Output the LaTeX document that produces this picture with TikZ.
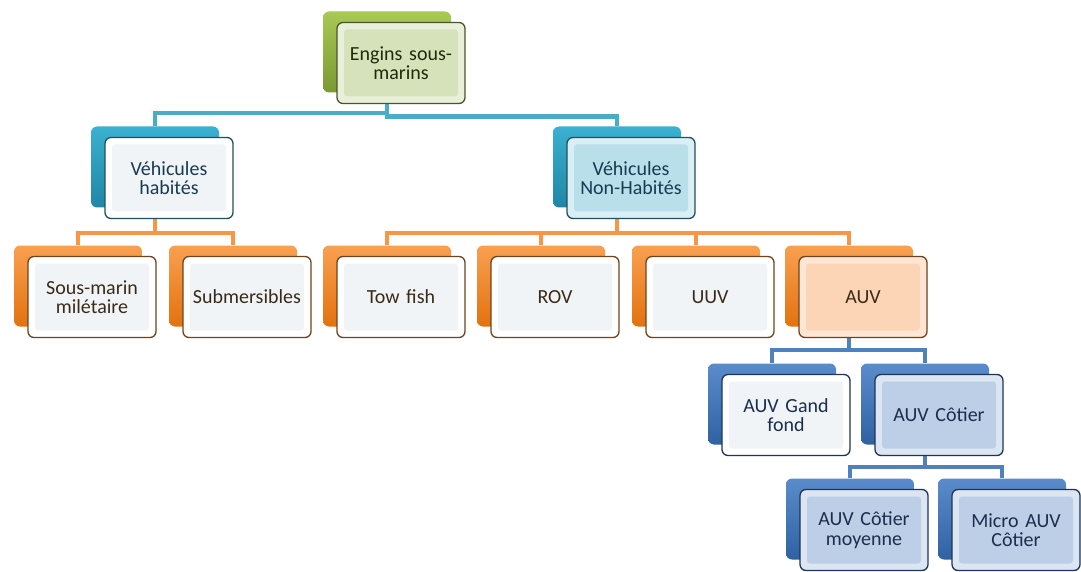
\documentclass[tikz,border=0pt]{standalone}
\usepackage{fontspec}
\setmainfont{Carlito}
\pgfdeclarelayer{bg}
\pgfsetlayers{bg,main}
\definecolor{gTop}{HTML}{A8C955}
\definecolor{gBot}{HTML}{7A9A32}
\definecolor{gIn}{HTML}{D6E3BA}
\definecolor{gOut}{HTML}{E9F0DA}
\definecolor{gLine}{HTML}{4A5530}
\definecolor{tTop}{HTML}{3BB0D0}
\definecolor{tBot}{HTML}{1F86A6}
\definecolor{tLink}{HTML}{4BACC6}
\definecolor{tLine}{HTML}{24505E}
\definecolor{oTop}{HTML}{F9A050}
\definecolor{oBot}{HTML}{E3720F}
\definecolor{oLink}{HTML}{F79646}
\definecolor{oLine}{HTML}{6E4420}
\definecolor{bTop}{HTML}{5A8CCB}
\definecolor{bBot}{HTML}{2F62A3}
\definecolor{bLink}{HTML}{4F81BD}
\definecolor{bLine}{HTML}{1E3557}
\definecolor{wIn}{HTML}{F1F4F6}
\definecolor{wOut}{HTML}{FFFFFF}
\definecolor{vnhIn}{HTML}{B9DFEA}
\definecolor{vnhOut}{HTML}{D9EFF5}
\definecolor{auvIn}{HTML}{FBD5B5}
\definecolor{auvOut}{HTML}{FDE6D3}
\definecolor{acIn}{HTML}{BCCFE6}
\definecolor{acOut}{HTML}{DCE6F2}
\definecolor{txG}{HTML}{1E2A0C}
\definecolor{txT}{HTML}{173B52}
\definecolor{txO}{HTML}{3A2A18}
\definecolor{txB}{HTML}{1B2E4E}
\tikzset{
  backbox/.style={rectangle, rounded corners=6pt, minimum width=128pt, minimum height=81pt, inner sep=0pt},
  green back/.style={top color=gTop, bottom color=gBot},
  teal back/.style={top color=tTop, bottom color=tBot},
  orange back/.style={top color=oTop, bottom color=oBot},
  blue back/.style={top color=bTop, bottom color=bBot},
  frontbox/.style={rectangle, rounded corners=6pt, minimum width=128pt, minimum height=81pt,
    text width=124pt, align=center, inner sep=0pt, line width=1.3pt,
    font=\fontsize{20}{19.5}\selectfont},
  bevel/.style={path picture={\fill[#1, rounded corners=3pt]
      ([shift={(7pt,7pt)}]path picture bounding box.south west) rectangle
      ([shift={(-7pt,-7pt)}]path picture bounding box.north east);}},
  link/.style={line width=4.5pt},
}
% #1 name, #2 centre of front box, #3 text, #4 back style, #5 front options
\newcommand\uvbox[5]{%
  \node[backbox,#4,xshift=-14pt,yshift=11pt] (#1B) at (#2) {};
  \node[frontbox,#5] (#1) at (#2) {#3};
}
\begin{document}
\begin{tikzpicture}[x=1pt,y=-1pt]
\useasboundingbox (0,0) rectangle (1081,572);

\uvbox{eng}{401,63}{Engins sous-\\marins}{green back}{fill=gOut, draw=gLine, bevel=gIn, text=txG}
\uvbox{vh}{169,178}{Véhicules\\habités}{teal back}{fill=wOut, draw=tLine, bevel=wIn, text=txT}
\uvbox{vnh}{631,178}{Véhicules\\Non-Habités}{teal back}{fill=vnhOut, draw=tLine, bevel=vnhIn, text=txT}
\uvbox{smm}{92,297}{Sous-marin\\milétaire}{orange back}{fill=wOut, draw=oLine, bevel=wIn, text=txO}
\uvbox{sub}{247,297}{Submersibles}{orange back}{fill=wOut, draw=oLine, bevel=wIn, text=txO}
\uvbox{tow}{401,297}{Tow fish}{orange back}{fill=wOut, draw=oLine, bevel=wIn, text=txO}
\uvbox{rov}{555,297}{ROV}{orange back}{fill=wOut, draw=oLine, bevel=wIn, text=txO}
\uvbox{uuv}{710,297}{UUV}{orange back}{fill=wOut, draw=oLine, bevel=wIn, text=txO}
\uvbox{auv}{863,297}{AUV}{orange back}{fill=auvOut, draw=oLine, bevel=auvIn, text=txO}
\uvbox{agf}{786,415}{AUV Gand\\fond}{blue back}{fill=wOut, draw=bLine, bevel=wIn, text=txB}
\uvbox{ac}{939,415}{AUV Côtier}{blue back}{fill=acOut, draw=bLine, bevel=acIn, text=txB}
\uvbox{acm}{864,530}{AUV Côtier\\moyenne}{blue back}{fill=acOut, draw=bLine, bevel=acIn, text=txB}
\uvbox{mac}{1016,530}{Micro AUV\\Côtier}{blue back}{fill=acOut, draw=bLine, bevel=acIn, text=txB}

\begin{pgfonlayer}{bg}
\fill[white] (0,0) rectangle (1081,572);
\draw[link, tLink] (engB.south) -- ++(0,20.5) -| (vhB.north);
\draw[link, tLink] (engB.south) -- ++(0,24) -| (vnhB.north);
\foreach \c in {smm,sub}
  \draw[link, oLink] (vhB.south) -- ++(0,25.5) -| (\c B.north);
\foreach \c in {tow,rov,uuv,auv}
  \draw[link, oLink] (vnhB.south) -- ++(0,25.5) -| (\c B.north);
\foreach \c in {agf,ac}
  \draw[link, bLink] (auvB.south) -- ++(0,23.5) -| (\c B.north);
\foreach \c in {acm,mac}
  \draw[link, bLink] (acB.south) -- ++(0,22.5) -| (\c B.north);
\end{pgfonlayer}
\end{tikzpicture}
\end{document}
